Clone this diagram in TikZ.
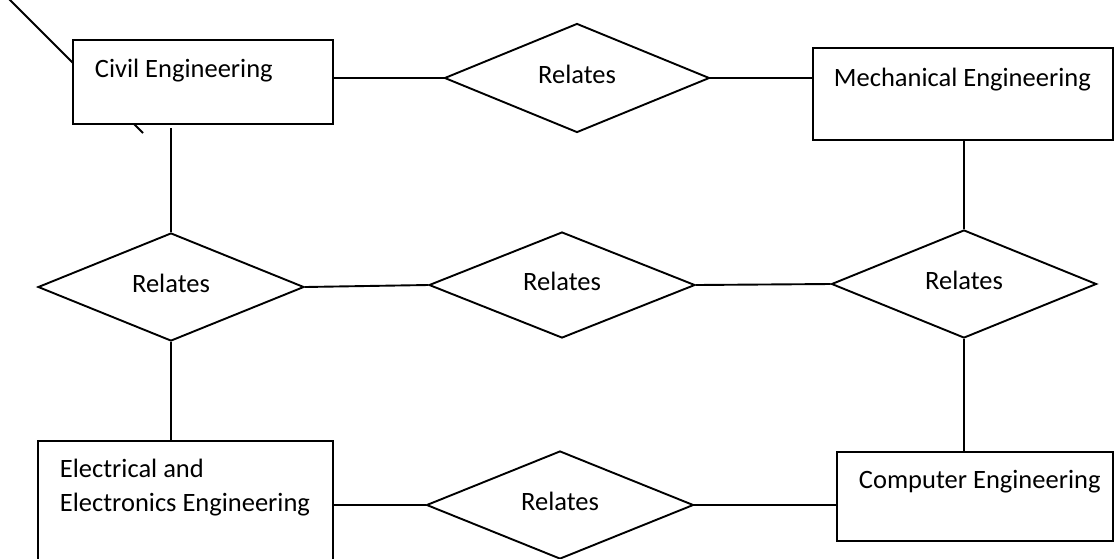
\documentclass[tikz,border=0pt]{standalone}
\usepackage{fontspec}
\setmainfont{Carlito}
\usetikzlibrary{shapes.geometric}
\begin{document}
\begin{tikzpicture}[x=1pt,y=-1pt,line width=1.9pt,
  font=\fontsize{26.5}{34}\selectfont,
  entbox/.style={draw,fill=white,rectangle,inner sep=0pt},
  reldia/.style={draw,fill=white,diamond,shape aspect=2.5,inner sep=0pt,text depth=7pt,minimum width=266pt,minimum height=108pt},
  lbl/.style={inner sep=0pt,anchor=base west}]
\useasboundingbox (0,0) rectangle (1115,558);
\clip (0,0) rectangle (1115,558);
% stray diagonal line behind Civil Engineering box
\coordinate (diagA) at (9,-1);
\coordinate (diagB) at (143,133);
\draw (diagA) -- (diagB);
% entity boxes
\node[entbox,minimum width=260pt,minimum height=84pt] (civil) at (203,82) {};
\node[entbox,minimum width=300pt,minimum height=92pt] (mech) at (963,94) {};
\node[entbox,minimum width=295pt,minimum height=138pt] (elec) at (185.5,510) {};
\node[entbox,minimum width=276pt,minimum height=89pt] (comp) at (975,496.5) {};
% relation diamonds
\node[reldia,minimum width=265pt,minimum height=109pt] (d1) at (577,78) {Relates};
\node[reldia] (d2) at (171,287) {Relates};
\node[reldia,minimum height=106pt] (d3) at (562,285) {Relates};
\node[reldia,minimum width=265pt] (d4) at (964,284) {Relates};
\node[reldia,minimum width=267pt] (d5) at (560,505) {Relates};
% labels
\node[lbl] (civilt) at (94,77) {Civil Engineering};
\node[lbl] (mecht) at (833,86) {Mechanical Engineering};
\node[lbl] (electa) at (59,477) {Electrical and};
\node[lbl] (electb) at (59,511) {Electronics Engineering};
\node[lbl] (compt) at (858,488) {Computer Engineering};
% connectors
\draw (d1.west) -- (d1.west -| civil.east);
\draw (d1.east) -- (d1.east -| mech.west);
\draw (d2.north) -- ([yshift=-3pt]d2.north |- civil.south);
\draw (d4.north) -- (d4.north |- mech.south);
\draw (d2.east) -- (d3.west);
\draw (d3.east) -- (d4.west);
\draw (d2.south) -- (d2.south |- elec.north);
\draw (d4.south) -- (d4.south |- comp.north);
\draw (d5.west) -- (d5.west -| elec.east);
\draw (d5.east) -- (d5.east -| comp.west);
\end{tikzpicture}
\end{document}
